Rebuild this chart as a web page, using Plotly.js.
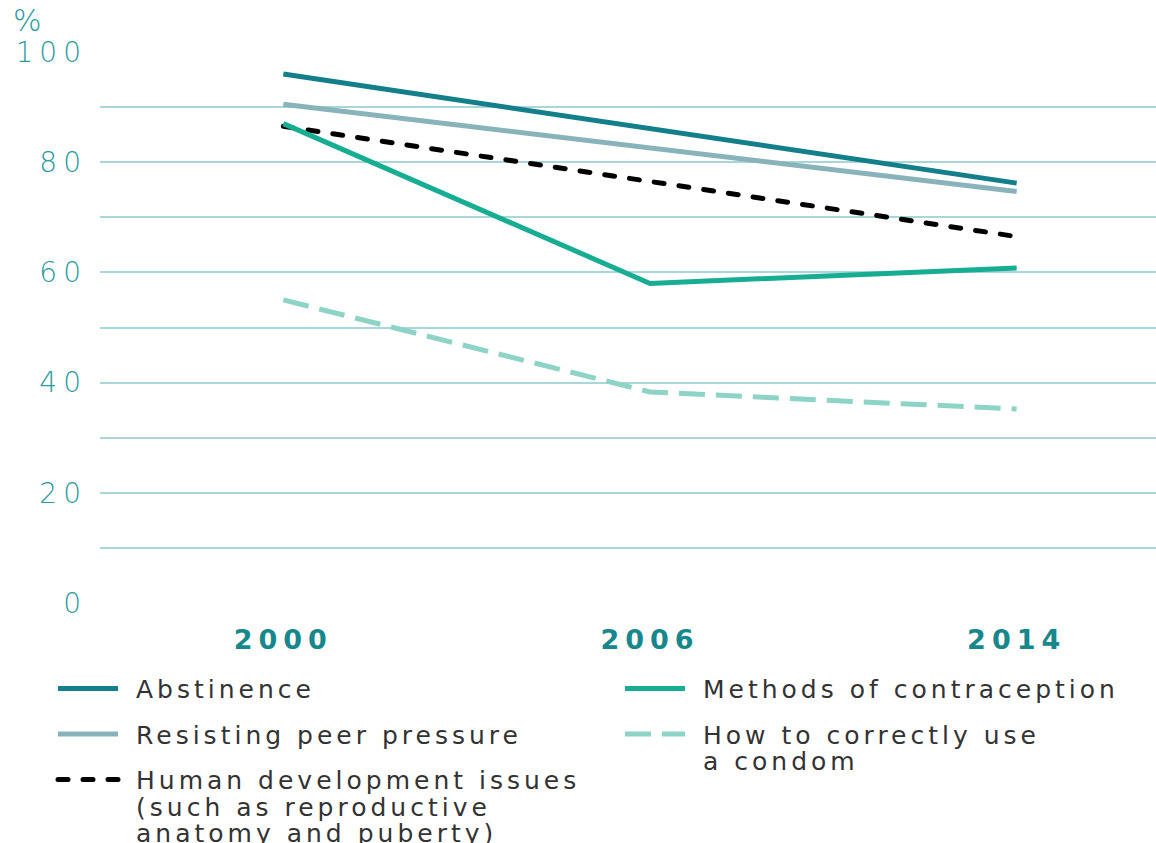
<!DOCTYPE html>
<html>
<head>
<meta charset="utf-8">
<script src="https://cdn.plot.ly/plotly-3.0.1.min.js"></script>
<style>
  html, body { margin: 0; padding: 0; background: #ffffff; }
  #chart { width: 1156px; height: 843px; }
  .legendtext, .legend2text { letter-spacing: 4px; }
  .ytick text { letter-spacing: 6px; }
  .xtick text { letter-spacing: 6px; }
</style>
</head>
<body>
<div id="chart"></div>
<script>
// Survey years (categories on the x axis)
const years = ['2000', '2006', '2014'];

// Share of schools teaching each topic, %
const abstinence = [96, 86.2, 76.2];
const peerPressure = [90.5, 82.6, 74.7];
const humanDevelopment = [86.5, 76.4, 66.5];
const contraception = [87, 58, 60.8];
const condomUse = [55, 38.3, 35.2];

// Legend labels
const names = {
  abstinence: 'Abstinence',
  peerPressure: 'Resisting peer pressure',
  humanDevelopment: 'Human development issues<br>(such as reproductive<br>anatomy and puberty)',
  contraception: 'Methods of contraception',
  condomUse: 'How to correctly use<br>a condom'
};

const yTicks = [0, 20, 40, 60, 80, 100];

const teal = '#2a9a9f';
const gridColor = '#a9d6d9';
const font = 'DejaVu Sans, sans-serif';

function series(y, name, color, dash, legend, group) {
  return {
    type: 'scatter', mode: 'lines', x: years, y: y, name: name,
    line: { color: color, width: 5, dash: dash },
    legend: legend, legendgroup: group,
    hoverinfo: 'skip'
  };
}

const data = [
  series(abstinence, names.abstinence, '#137f8a', 'solid', 'legend', 'g1'),
  series(peerPressure, names.peerPressure, '#88b3bb', 'solid', 'legend', 'g2'),
  series(humanDevelopment, names.humanDevelopment, '#000000', '10px,15px', 'legend', 'g3'),
  series(contraception, names.contraception, '#17ad92', 'solid', 'legend2', 'g4'),
  series(condomUse, names.condomUse, '#8dd3c6', '26px,11px', 'legend2', 'g5')
];

const legendBase = {
  orientation: 'v',
  traceorder: 'grouped',
  tracegroupgap: 10,
  itemwidth: 60,
  valign: 'top',
  bgcolor: 'rgba(0,0,0,0)',
  font: { family: font, size: 25, color: '#333333' },
  xanchor: 'left', yanchor: 'top'
};

const layout = {
  width: 1156, height: 843,
  margin: { l: 100, r: 0, t: 52, b: 240, autoexpand: false },
  paper_bgcolor: '#ffffff', plot_bgcolor: '#ffffff',
  showlegend: true,
  legend: Object.assign({}, legendBase, { x: -0.0445, y: -0.114 }),
  legend2: Object.assign({}, legendBase, { x: 0.4924, y: -0.114 }),
  xaxis: {
    type: 'category',
    range: [-0.5, 2.38],
    showgrid: false, zeroline: false, showline: false,
    ticks: '', ticklabelstandoff: 18,
    tickfont: { family: font, size: 27, color: '#16878d', weight: 'bold' }
  },
  yaxis: {
    range: [0, 100],
    tickvals: yTicks,
    showgrid: true, gridcolor: gridColor, gridwidth: 2,
    minor: { dtick: 10, showgrid: true, gridcolor: gridColor, gridwidth: 2 },
    zeroline: false, showline: false,
    ticks: '', ticklabelstandoff: 12,
    tickfont: { family: font, size: 28, color: teal, weight: 200 }
  },
  annotations: [{
    text: '%', xref: 'paper', yref: 'paper', x: -0.084, y: 1.0,
    xanchor: 'left', yanchor: 'bottom', yshift: 12, showarrow: false,
    font: { family: font, size: 30, color: teal, weight: 200 }
  }]
};

Plotly.newPlot('chart', data, layout, { displayModeBar: false, staticPlot: true }).then(function () {
  // legend text: a little more room after the key, tighter line spacing
  document.querySelectorAll('.legendtext, .legend2text').forEach(function (t) {
    const x = parseFloat(t.getAttribute('x')) + 13;
    t.setAttribute('x', x);
    t.querySelectorAll('tspan.line').forEach(function (ln, i) {
      ln.setAttribute('x', x);
      ln.setAttribute('dy', (i * 1.05) + 'em');
    });
  });
  // the wider text should not be clipped by the legend boxes
  document.querySelectorAll('.infolayer [clip-path]').forEach(function (el) {
    el.removeAttribute('clip-path');
  });
  // rounded dashes for the black dashed series and its legend key
  document.querySelectorAll('path.js-line').forEach(function (p) {
    const s = (p.style.stroke || p.getAttribute('stroke') || '').replace(/\s/g, '');
    if (s === 'rgb(0,0,0)' || s === '#000000' || s === 'rgba(0,0,0,1)') {
      p.style.strokeLinecap = 'round';
    }
  });
});
</script>
</body>
</html>
